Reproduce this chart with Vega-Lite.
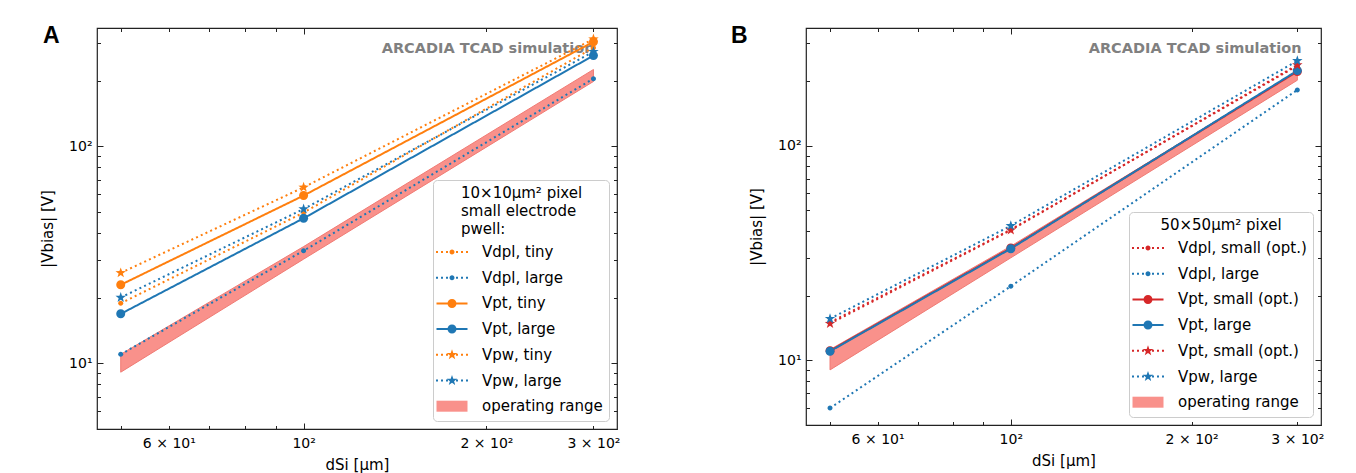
{
  "$schema": "https://vega.github.io/schema/vega-lite/v6.json",
  "background": "white",
  "padding": {"left": 39, "top": 24, "right": 5, "bottom": 0},
  "autosize": {"type": "pad"},
  "spacing": 189,
  "bounds": "flush",
  "resolve": {
    "scale": {"x": "independent", "y": "independent", "color": "independent", "strokeDash": "independent"},
    "legend": {"color": "independent"}
  },
  "config": {
    "font": "DejaVu Sans",
    "view": {"stroke": "#222222", "strokeWidth": 1.2},
    "axis": {
      "grid": false, "domain": false, "tickColor": "#222222", "tickWidth": 1,
      "labelFont": "DejaVu Sans", "labelFontSize": 14, "labelColor": "black",
      "labelFlush": false, "labelOverlap": false,
      "titleFont": "DejaVu Sans", "titleFontSize": 15, "titleFontWeight": "normal", "titleColor": "black"
    },
    "title": {"font": "Liberation Sans", "fontSize": 23, "fontWeight": "bold", "color": "black"},
    "legend": {
      "orient": "bottom-right", "offset": 8, "padding": 6,
      "fillColor": "rgba(255,255,255,0.85)", "strokeColor": "#cccccc", "cornerRadius": 4,
      "labelFont": "DejaVu Sans", "labelFontSize": 15, "labelColor": "black", "labelLimit": 400,
      "titleFont": "DejaVu Sans", "titleFontSize": 15, "titleFontWeight": "normal", "titleColor": "black",
      "titleLineHeight": 18, "titleLimit": 400, "titlePadding": 5,
      "symbolSize": 400, "symbolOffset": 3, "labelOffset": 20, "rowPadding": 7.7,
      "symbolStrokeWidth": 0, "symbolOpacity": 1
    }
  },
  "datasets": {
    "A_lines": [
      {"s": "Vdpl, tiny", "d": 50, "v": 18.9}, {"s": "Vdpl, tiny", "d": 100, "v": 49.5}, {"s": "Vdpl, tiny", "d": 300, "v": 285},
      {"s": "Vdpl, large", "d": 50, "v": 11.0}, {"s": "Vdpl, large", "d": 100, "v": 33.0}, {"s": "Vdpl, large", "d": 300, "v": 205},
      {"s": "Vpt, tiny", "d": 50, "v": 23.0}, {"s": "Vpt, tiny", "d": 100, "v": 59.3}, {"s": "Vpt, tiny", "d": 300, "v": 303},
      {"s": "Vpt, large", "d": 50, "v": 16.9}, {"s": "Vpt, large", "d": 100, "v": 46.6}, {"s": "Vpt, large", "d": 300, "v": 262},
      {"s": "Vpw, tiny", "d": 50, "v": 26.1}, {"s": "Vpw, tiny", "d": 100, "v": 64.7}, {"s": "Vpw, tiny", "d": 300, "v": 312},
      {"s": "Vpw, large", "d": 50, "v": 20.1}, {"s": "Vpw, large", "d": 100, "v": 51.4}, {"s": "Vpw, large", "d": 300, "v": 273}
    ],
    "A_band": [
      {"s": "operating range", "d": 50, "lo": 9.1, "hi": 11.0},
      {"s": "operating range", "d": 100, "lo": 30.2, "hi": 34.5},
      {"s": "operating range", "d": 300, "lo": 199, "hi": 226}
    ],
    "B_lines": [
      {"s": "Vdpl, small (opt.)", "d": 50, "v": 15.0}, {"s": "Vdpl, small (opt.)", "d": 100, "v": 40.6}, {"s": "Vdpl, small (opt.)", "d": 300, "v": 236},
      {"s": "Vdpl, large", "d": 50, "v": 5.97}, {"s": "Vdpl, large", "d": 100, "v": 22.1}, {"s": "Vdpl, large", "d": 300, "v": 182},
      {"s": "Vpt, small (opt.)", "d": 50, "v": 11.05}, {"s": "Vpt, small (opt.)", "d": 100, "v": 33.3}, {"s": "Vpt, small (opt.)", "d": 300, "v": 222},
      {"s": "Vpt, large", "d": 50, "v": 11.0}, {"s": "Vpt, large", "d": 100, "v": 33.1}, {"s": "Vpt, large", "d": 300, "v": 224},
      {"s": "Vpw, small (opt.)", "d": 50, "v": 14.8}, {"s": "Vpw, small (opt.)", "d": 100, "v": 40.4}, {"s": "Vpw, small (opt.)", "d": 300, "v": 238},
      {"s": "Vpw, large", "d": 50, "v": 15.6}, {"s": "Vpw, large", "d": 100, "v": 42.3}, {"s": "Vpw, large", "d": 300, "v": 249}
    ],
    "B_band": [
      {"s": "operating range", "d": 50, "lo": 9.0, "hi": 11.2},
      {"s": "operating range", "d": 100, "lo": 30.0, "hi": 34.0},
      {"s": "operating range", "d": 300, "lo": 202, "hi": 222}
    ]
  },
  "hconcat": [
    {
      "width": 520, "height": 401,
      "title": {"text": "A", "anchor": "start", "frame": "group", "dx": -54, "offset": -38.9, "baseline": "alphabetic"},
      "resolve": {"axis": {"x": "independent", "y": "independent"}},
      "layer": [
        {
          "data": {"name": "A_band"},
          "mark": {"type": "area", "stroke": "#f07b74", "strokeWidth": 1, "opacity": 1},
          "encoding": {
            "x": {"field": "d", "type": "quantitative", "scale": {"type": "log", "domain": [45.7, 328], "nice": false},
              "axis": {"orient": "bottom", "values": [100], "tickSize": -6, "labelPadding": 13, "labelExpr": "'10²'", "title": "dSi [μm]", "titleX": 260, "titleY": 35, "titleBaseline": "middle"}},
            "y": {"field": "lo", "type": "quantitative", "scale": {"type": "log", "domain": [4.98, 351], "nice": false},
              "axis": {"orient": "left", "values": [10, 100], "tickSize": -6, "labelPadding": 11, "labelExpr": "datum.value == 10 ? '10¹' : '10²'", "title": "|Vbias| [V]", "titleX": -50, "titleY": 200.5, "titleBaseline": "middle", "titleAngle": 270}},
            "y2": {"field": "hi"},
            "color": {"field": "s", "type": "nominal",
              "scale": {"domain": ["Vdpl, tiny", "Vdpl, large", "Vpt, tiny", "Vpt, large", "Vpw, tiny", "Vpw, large", "operating range"], "range": ["#ff7f0e", "#1f77b4", "#ff7f0e", "#1f77b4", "#ff7f0e", "#1f77b4", "#f9918b"]},
              "legend": {
                "title": ["\u2800\u280010×10μm² pixel", "\u2800\u2800small electrode", "\u2800\u2800pwell:"],
                "titleAnchor": "start", "titleAlign": "left",
                "symbolType": {"expr": "datum.value == 'operating range' ? 'M-1.55,-0.55H1.55V0.55H-1.55Z' : indexof(datum.value, 'Vpt') == 0 ? 'M-1.55,-0.1H1.55V0.1H-1.55Z M-0.45,0A0.45,0.45,0,1,1,0.45,0A0.45,0.45,0,1,1,-0.45,0Z' : indexof(datum.value, 'Vdpl') == 0 ? 'M-1.6,-0.1h0.2v0.2h-0.2Z M-1.1,-0.1h0.2v0.2h-0.2Z M-0.6,-0.1h0.2v0.2h-0.2Z M0.4,-0.1h0.2v0.2h-0.2Z M0.9,-0.1h0.2v0.2h-0.2Z M1.4,-0.1h0.2v0.2h-0.2Z M-0.25,0A0.25,0.25,0,1,1,0.25,0A0.25,0.25,0,1,1,-0.25,0Z' : 'M-1.6,-0.1h0.2v0.2h-0.2Z M-1.1,-0.1h0.2v0.2h-0.2Z M-0.6,-0.1h0.2v0.2h-0.2Z M0.4,-0.1h0.2v0.2h-0.2Z M0.9,-0.1h0.2v0.2h-0.2Z M1.4,-0.1h0.2v0.2h-0.2Z M0,-0.55L0.129,-0.178L0.523,-0.17L0.209,0.068L0.323,0.445L0,0.22L-0.323,0.445L-0.209,0.068L-0.523,-0.17L-0.129,-0.178Z'"}
              }
            }
          }
        },
        {
          "data": {"name": "A_lines"},
          "mark": {"type": "line", "strokeWidth": 2},
          "encoding": {
            "x": {"field": "d", "type": "quantitative", "scale": {"type": "log", "domain": [45.7, 328], "nice": false},
              "axis": {"orient": "bottom", "values": [50, 60, 70, 80, 90, 200, 300], "tickSize": -3.5, "labelPadding": 10.5, "labelExpr": "datum.value == 60 ? '6 × 10¹' : datum.value == 200 ? '2 × 10²' : datum.value == 300 ? '3 × 10²' : ''", "title": null}},
            "y": {"field": "v", "type": "quantitative", "scale": {"type": "log", "domain": [4.98, 351], "nice": false},
              "axis": {"orient": "left", "values": [5, 6, 7, 8, 9, 20, 30, 40, 50, 60, 70, 80, 90, 200, 300], "tickSize": -3.5, "labels": false, "title": null}},
            "color": {"field": "s", "type": "nominal", "legend": null,
              "scale": {"domain": ["Vdpl, tiny", "Vdpl, large", "Vpt, tiny", "Vpt, large", "Vpw, tiny", "Vpw, large", "operating range"], "range": ["#ff7f0e", "#1f77b4", "#ff7f0e", "#1f77b4", "#ff7f0e", "#1f77b4", "#f9918b"]}},
            "strokeDash": {"field": "s", "type": "nominal", "legend": null,
              "scale": {"domain": ["Vdpl, tiny", "Vdpl, large", "Vpt, tiny", "Vpt, large", "Vpw, tiny", "Vpw, large"], "range": [[2, 3.2], [2, 3.2], [1, 0], [1, 0], [2, 3.2], [2, 3.2]]}}
          }
        },
        {
          "data": {"name": "A_lines"},
          "transform": [{"filter": "indexof(datum.s, 'Vdpl') == 0"}],
          "mark": {"type": "point", "filled": true, "opacity": 1, "size": 400, "strokeWidth": 0, "shape": "M-0.25,0A0.25,0.25,0,1,1,0.25,0A0.25,0.25,0,1,1,-0.25,0Z"},
          "encoding": {
            "x": {"field": "d", "type": "quantitative", "scale": {"type": "log", "domain": [45.7, 328], "nice": false},
              "axis": {"orient": "top", "values": [100], "tickSize": -6, "labels": false, "title": "ARCADIA TCAD simulation", "titleX": 497, "titleY": 24.5, "titleAlign": "right", "titleBaseline": "alphabetic", "titleAngle": 0, "titleColor": "#808080", "titleFontWeight": "bold", "titleFontSize": 14.5}},
            "y": {"field": "v", "type": "quantitative", "scale": {"type": "log", "domain": [4.98, 351], "nice": false},
              "axis": {"orient": "right", "values": [10, 100], "tickSize": -6, "labels": false, "title": null}},
            "color": {"field": "s", "type": "nominal", "legend": null,
              "scale": {"domain": ["Vdpl, tiny", "Vdpl, large", "Vpt, tiny", "Vpt, large", "Vpw, tiny", "Vpw, large", "operating range"], "range": ["#ff7f0e", "#1f77b4", "#ff7f0e", "#1f77b4", "#ff7f0e", "#1f77b4", "#f9918b"]}}
          }
        },
        {
          "data": {"name": "A_lines"},
          "transform": [{"filter": "indexof(datum.s, 'Vpt') == 0"}],
          "mark": {"type": "point", "filled": true, "opacity": 1, "size": 400, "strokeWidth": 0, "shape": "M-0.45,0A0.45,0.45,0,1,1,0.45,0A0.45,0.45,0,1,1,-0.45,0Z"},
          "encoding": {
            "x": {"field": "d", "type": "quantitative", "scale": {"type": "log", "domain": [45.7, 328], "nice": false},
              "axis": {"orient": "top", "values": [50, 60, 70, 80, 90, 200, 300], "tickSize": -3.5, "labels": false, "title": null}},
            "y": {"field": "v", "type": "quantitative", "scale": {"type": "log", "domain": [4.98, 351], "nice": false},
              "axis": {"orient": "right", "values": [5, 6, 7, 8, 9, 20, 30, 40, 50, 60, 70, 80, 90, 200, 300], "tickSize": -3.5, "labels": false, "title": null}},
            "color": {"field": "s", "type": "nominal", "legend": null,
              "scale": {"domain": ["Vdpl, tiny", "Vdpl, large", "Vpt, tiny", "Vpt, large", "Vpw, tiny", "Vpw, large", "operating range"], "range": ["#ff7f0e", "#1f77b4", "#ff7f0e", "#1f77b4", "#ff7f0e", "#1f77b4", "#f9918b"]}}
          }
        },
        {
          "data": {"name": "A_lines"},
          "transform": [{"filter": "indexof(datum.s, 'Vpw') == 0"}],
          "mark": {"type": "point", "filled": true, "opacity": 1, "size": 400, "strokeWidth": 0, "shape": "M0,-0.55L0.129,-0.178L0.523,-0.17L0.209,0.068L0.323,0.445L0,0.22L-0.323,0.445L-0.209,0.068L-0.523,-0.17L-0.129,-0.178Z"},
          "encoding": {
            "x": {"field": "d", "type": "quantitative", "scale": {"type": "log", "domain": [45.7, 328], "nice": false}, "axis": null},
            "y": {"field": "v", "type": "quantitative", "scale": {"type": "log", "domain": [4.98, 351], "nice": false}, "axis": null},
            "color": {"field": "s", "type": "nominal", "legend": null,
              "scale": {"domain": ["Vdpl, tiny", "Vdpl, large", "Vpt, tiny", "Vpt, large", "Vpw, tiny", "Vpw, large", "operating range"], "range": ["#ff7f0e", "#1f77b4", "#ff7f0e", "#1f77b4", "#ff7f0e", "#1f77b4", "#f9918b"]}}
          }
        }
      ]
    },
    {
      "width": 515, "height": 397,
      "title": {"text": "B", "anchor": "start", "frame": "group", "dx": -75, "offset": -38.9, "baseline": "alphabetic"},
      "resolve": {"axis": {"x": "independent", "y": "independent"}},
      "layer": [
        {
          "data": {"name": "B_band"},
          "mark": {"type": "area", "stroke": "#f07b74", "strokeWidth": 1, "opacity": 1},
          "encoding": {
            "x": {"field": "d", "type": "quantitative", "scale": {"type": "log", "domain": [45.6, 328.5], "nice": false},
              "axis": {"orient": "bottom", "values": [100], "tickSize": -6, "labelPadding": 13, "labelExpr": "'10²'", "title": "dSi [μm]", "titleX": 257.5, "titleY": 35, "titleBaseline": "middle"}},
            "y": {"field": "lo", "type": "quantitative", "scale": {"type": "log", "domain": [4.98, 354], "nice": false},
              "axis": {"orient": "left", "values": [10, 100], "tickSize": -6, "labelPadding": 11, "labelExpr": "datum.value == 10 ? '10¹' : '10²'", "title": "|Vbias| [V]", "titleX": -50, "titleY": 198.5, "titleBaseline": "middle", "titleAngle": 270}},
            "y2": {"field": "hi"},
            "color": {"field": "s", "type": "nominal",
              "scale": {"domain": ["Vdpl, small (opt.)", "Vdpl, large", "Vpt, small (opt.)", "Vpt, large", "Vpw, small (opt.)", "Vpw, large", "operating range"], "range": ["#d62728", "#1f77b4", "#d62728", "#1f77b4", "#d62728", "#1f77b4", "#f9918b"]},
              "legend": {
                "title": "50×50μm² pixel", "titleAnchor": "middle",
                "labelExpr": "datum.label == 'Vpw, small (opt.)' ? 'Vpt, small (opt.)' : datum.label",
                "symbolType": {"expr": "datum.value == 'operating range' ? 'M-1.55,-0.55H1.55V0.55H-1.55Z' : indexof(datum.value, 'Vpt') == 0 ? 'M-1.55,-0.1H1.55V0.1H-1.55Z M-0.45,0A0.45,0.45,0,1,1,0.45,0A0.45,0.45,0,1,1,-0.45,0Z' : indexof(datum.value, 'Vdpl') == 0 ? 'M-1.6,-0.1h0.2v0.2h-0.2Z M-1.1,-0.1h0.2v0.2h-0.2Z M-0.6,-0.1h0.2v0.2h-0.2Z M0.4,-0.1h0.2v0.2h-0.2Z M0.9,-0.1h0.2v0.2h-0.2Z M1.4,-0.1h0.2v0.2h-0.2Z M-0.25,0A0.25,0.25,0,1,1,0.25,0A0.25,0.25,0,1,1,-0.25,0Z' : 'M-1.6,-0.1h0.2v0.2h-0.2Z M-1.1,-0.1h0.2v0.2h-0.2Z M-0.6,-0.1h0.2v0.2h-0.2Z M0.4,-0.1h0.2v0.2h-0.2Z M0.9,-0.1h0.2v0.2h-0.2Z M1.4,-0.1h0.2v0.2h-0.2Z M0,-0.55L0.129,-0.178L0.523,-0.17L0.209,0.068L0.323,0.445L0,0.22L-0.323,0.445L-0.209,0.068L-0.523,-0.17L-0.129,-0.178Z'"}
              }
            }
          }
        },
        {
          "data": {"name": "B_lines"},
          "mark": {"type": "line", "strokeWidth": 2},
          "encoding": {
            "x": {"field": "d", "type": "quantitative", "scale": {"type": "log", "domain": [45.6, 328.5], "nice": false},
              "axis": {"orient": "bottom", "values": [50, 60, 70, 80, 90, 200, 300], "tickSize": -3.5, "labelPadding": 10.5, "labelExpr": "datum.value == 60 ? '6 × 10¹' : datum.value == 200 ? '2 × 10²' : datum.value == 300 ? '3 × 10²' : ''", "title": null}},
            "y": {"field": "v", "type": "quantitative", "scale": {"type": "log", "domain": [4.98, 354], "nice": false},
              "axis": {"orient": "left", "values": [5, 6, 7, 8, 9, 20, 30, 40, 50, 60, 70, 80, 90, 200, 300], "tickSize": -3.5, "labels": false, "title": null}},
            "color": {"field": "s", "type": "nominal", "legend": null,
              "scale": {"domain": ["Vdpl, small (opt.)", "Vdpl, large", "Vpt, small (opt.)", "Vpt, large", "Vpw, small (opt.)", "Vpw, large", "operating range"], "range": ["#d62728", "#1f77b4", "#d62728", "#1f77b4", "#d62728", "#1f77b4", "#f9918b"]}},
            "strokeDash": {"field": "s", "type": "nominal", "legend": null,
              "scale": {"domain": ["Vdpl, small (opt.)", "Vdpl, large", "Vpt, small (opt.)", "Vpt, large", "Vpw, small (opt.)", "Vpw, large"], "range": [[2, 3.2], [2, 3.2], [1, 0], [1, 0], [2, 3.2], [2, 3.2]]}}
          }
        },
        {
          "data": {"name": "B_lines"},
          "transform": [{"filter": "indexof(datum.s, 'Vdpl') == 0"}],
          "mark": {"type": "point", "filled": true, "opacity": 1, "size": 400, "strokeWidth": 0, "shape": "M-0.25,0A0.25,0.25,0,1,1,0.25,0A0.25,0.25,0,1,1,-0.25,0Z"},
          "encoding": {
            "x": {"field": "d", "type": "quantitative", "scale": {"type": "log", "domain": [45.6, 328.5], "nice": false},
              "axis": {"orient": "top", "values": [100], "tickSize": -6, "labels": false, "title": "ARCADIA TCAD simulation", "titleX": 495, "titleY": 24.5, "titleAlign": "right", "titleBaseline": "alphabetic", "titleAngle": 0, "titleColor": "#808080", "titleFontWeight": "bold", "titleFontSize": 14.5}},
            "y": {"field": "v", "type": "quantitative", "scale": {"type": "log", "domain": [4.98, 354], "nice": false},
              "axis": {"orient": "right", "values": [10, 100], "tickSize": -6, "labels": false, "title": null}},
            "color": {"field": "s", "type": "nominal", "legend": null,
              "scale": {"domain": ["Vdpl, small (opt.)", "Vdpl, large", "Vpt, small (opt.)", "Vpt, large", "Vpw, small (opt.)", "Vpw, large", "operating range"], "range": ["#d62728", "#1f77b4", "#d62728", "#1f77b4", "#d62728", "#1f77b4", "#f9918b"]}}
          }
        },
        {
          "data": {"name": "B_lines"},
          "transform": [{"filter": "indexof(datum.s, 'Vpt') == 0"}],
          "mark": {"type": "point", "filled": true, "opacity": 1, "size": 400, "strokeWidth": 0, "shape": "M-0.45,0A0.45,0.45,0,1,1,0.45,0A0.45,0.45,0,1,1,-0.45,0Z"},
          "encoding": {
            "x": {"field": "d", "type": "quantitative", "scale": {"type": "log", "domain": [45.6, 328.5], "nice": false},
              "axis": {"orient": "top", "values": [50, 60, 70, 80, 90, 200, 300], "tickSize": -3.5, "labels": false, "title": null}},
            "y": {"field": "v", "type": "quantitative", "scale": {"type": "log", "domain": [4.98, 354], "nice": false},
              "axis": {"orient": "right", "values": [5, 6, 7, 8, 9, 20, 30, 40, 50, 60, 70, 80, 90, 200, 300], "tickSize": -3.5, "labels": false, "title": null}},
            "color": {"field": "s", "type": "nominal", "legend": null,
              "scale": {"domain": ["Vdpl, small (opt.)", "Vdpl, large", "Vpt, small (opt.)", "Vpt, large", "Vpw, small (opt.)", "Vpw, large", "operating range"], "range": ["#d62728", "#1f77b4", "#d62728", "#1f77b4", "#d62728", "#1f77b4", "#f9918b"]}}
          }
        },
        {
          "data": {"name": "B_lines"},
          "transform": [{"filter": "indexof(datum.s, 'Vpw') == 0"}],
          "mark": {"type": "point", "filled": true, "opacity": 1, "size": 400, "strokeWidth": 0, "shape": "M0,-0.55L0.129,-0.178L0.523,-0.17L0.209,0.068L0.323,0.445L0,0.22L-0.323,0.445L-0.209,0.068L-0.523,-0.17L-0.129,-0.178Z"},
          "encoding": {
            "x": {"field": "d", "type": "quantitative", "scale": {"type": "log", "domain": [45.6, 328.5], "nice": false}, "axis": null},
            "y": {"field": "v", "type": "quantitative", "scale": {"type": "log", "domain": [4.98, 354], "nice": false}, "axis": null},
            "color": {"field": "s", "type": "nominal", "legend": null,
              "scale": {"domain": ["Vdpl, small (opt.)", "Vdpl, large", "Vpt, small (opt.)", "Vpt, large", "Vpw, small (opt.)", "Vpw, large", "operating range"], "range": ["#d62728", "#1f77b4", "#d62728", "#1f77b4", "#d62728", "#1f77b4", "#f9918b"]}}
          }
        }
      ]
    }
  ]
}
